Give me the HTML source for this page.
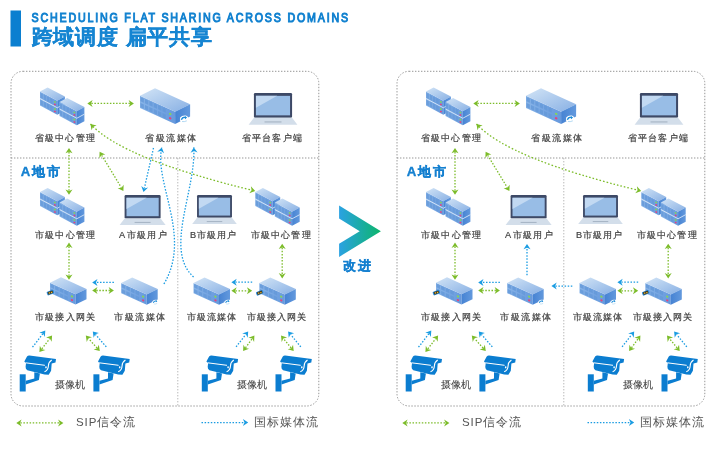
<!DOCTYPE html>
<html><head><meta charset="utf-8"><style>
html,body{margin:0;padding:0;background:#fff;width:726px;height:459px;overflow:hidden}
svg{display:block;will-change:transform;font-family:"Liberation Sans",sans-serif}
</style></head><body>
<svg width="726" height="459" viewBox="0 0 726 459">
<defs>
<linearGradient id="gTop" x1="0" y1="0" x2="1" y2="1"><stop offset="0" stop-color="#d2e4f6"/><stop offset="1" stop-color="#88b0e4"/></linearGradient>
<linearGradient id="gFront" x1="0" y1="0" x2="1" y2="0"><stop offset="0" stop-color="#88b4e8"/><stop offset="1" stop-color="#6699dd"/></linearGradient>
<linearGradient id="gEnd" x1="0" y1="0" x2="1" y2="0"><stop offset="0" stop-color="#4683d3"/><stop offset="1" stop-color="#6399dd"/></linearGradient>
<linearGradient id="gChev" x1="0" y1="0" x2="1" y2="0"><stop offset="0" stop-color="#2aa2e2"/><stop offset="1" stop-color="#0db56c"/></linearGradient>
</defs>
<rect x="10.5" y="10.5" width="10.5" height="36" fill="#0b7fd0"/>
<text transform="scale(0.85,1)" x="37.18" y="21.6" font-size="12.6" font-weight="normal" fill="#1282d0" stroke="#1282d0" stroke-width="1.0" textLength="372.35" lengthAdjust="spacing">SCHEDULING FLAT SHARING ACROSS DOMAINS</text>
<text x="31.6" y="44.0" font-size="20.6" font-weight="bold" fill="#1685d2" stroke="#1685d2" stroke-width="0.3" textLength="180.5" lengthAdjust="spacing">跨域调度 扁平共享</text>
<g transform="translate(0,0)"><rect x="11" y="71.3" width="307.8" height="334.7" rx="12" fill="none" stroke="#909090" stroke-width="0.95" stroke-dasharray="1.4 1.6"/><line x1="11" y1="158" x2="319" y2="158" stroke="#909090" stroke-width="0.95" stroke-dasharray="1.4 1.6"/><line x1="177.8" y1="158" x2="177.8" y2="406" stroke="#b4b4b4" stroke-width="0.95" stroke-dasharray="1.4 1.6"/><polygon points="40.00,91.50 57.30,100.70 57.30,114.80 40.00,105.60" fill="url(#gFront)"/><polygon points="40.00,91.50 57.30,100.70 64.90,96.60 47.60,87.40" fill="url(#gTop)"/><polygon points="57.30,100.70 64.90,96.60 64.90,110.70 57.30,114.80" fill="url(#gEnd)"/><polygon points="40.39,92.76 42.85,94.08 42.85,99.01 40.39,97.70" fill="#6498d8" opacity="0.8"/><polygon points="43.63,94.49 46.10,95.80 46.10,100.74 43.63,99.42" fill="#6498d8" opacity="0.8"/><polygon points="46.88,96.21 49.34,97.53 49.34,102.46 46.88,101.15" fill="#6498d8" opacity="0.8"/><polygon points="50.12,97.94 52.59,99.25 52.59,104.19 50.12,102.87" fill="#6498d8" opacity="0.8"/><ellipse cx="54.88" cy="101.95" rx="1.06" ry="0.82" fill="#86d45a" transform="rotate(25 54.88 101.95)"/><ellipse cx="54.88" cy="104.49" rx="1.06" ry="0.82" fill="#e2457f" transform="rotate(25 54.88 104.49)"/><polygon points="40.39,99.81 42.85,101.13 42.85,106.06 40.39,104.75" fill="#6498d8" opacity="0.8"/><polygon points="43.63,101.54 46.10,102.85 46.10,107.79 43.63,106.47" fill="#6498d8" opacity="0.8"/><polygon points="46.88,103.26 49.34,104.58 49.34,109.51 46.88,108.20" fill="#6498d8" opacity="0.8"/><polygon points="50.12,104.99 52.59,106.30 52.59,111.24 50.12,109.92" fill="#6498d8" opacity="0.8"/><ellipse cx="54.88" cy="109.00" rx="1.06" ry="0.82" fill="#86d45a" transform="rotate(25 54.88 109.00)"/><ellipse cx="54.88" cy="111.54" rx="1.06" ry="0.82" fill="#e2457f" transform="rotate(25 54.88 111.54)"/><polyline points="40.00,98.55 57.30,107.75 64.90,103.65" fill="none" stroke="#e6f0fb" stroke-width="0.8"/><polygon points="59.50,102.00 76.80,111.20 76.80,125.30 59.50,116.10" fill="url(#gFront)"/><polygon points="59.50,102.00 76.80,111.20 84.40,107.10 67.10,97.90" fill="url(#gTop)"/><polygon points="76.80,111.20 84.40,107.10 84.40,121.20 76.80,125.30" fill="url(#gEnd)"/><polygon points="59.89,103.26 62.35,104.58 62.35,109.51 59.89,108.20" fill="#6498d8" opacity="0.8"/><polygon points="63.13,104.99 65.60,106.30 65.60,111.24 63.13,109.92" fill="#6498d8" opacity="0.8"/><polygon points="66.38,106.71 68.84,108.03 68.84,112.96 66.38,111.65" fill="#6498d8" opacity="0.8"/><polygon points="69.62,108.44 72.09,109.75 72.09,114.69 69.62,113.37" fill="#6498d8" opacity="0.8"/><ellipse cx="74.38" cy="112.45" rx="1.06" ry="0.82" fill="#86d45a" transform="rotate(25 74.38 112.45)"/><ellipse cx="74.38" cy="114.99" rx="1.06" ry="0.82" fill="#e2457f" transform="rotate(25 74.38 114.99)"/><polygon points="59.89,110.31 62.35,111.63 62.35,116.56 59.89,115.25" fill="#6498d8" opacity="0.8"/><polygon points="63.13,112.04 65.60,113.35 65.60,118.29 63.13,116.97" fill="#6498d8" opacity="0.8"/><polygon points="66.38,113.76 68.84,115.08 68.84,120.01 66.38,118.70" fill="#6498d8" opacity="0.8"/><polygon points="69.62,115.49 72.09,116.80 72.09,121.74 69.62,120.42" fill="#6498d8" opacity="0.8"/><ellipse cx="74.38" cy="119.50" rx="1.06" ry="0.82" fill="#86d45a" transform="rotate(25 74.38 119.50)"/><ellipse cx="74.38" cy="122.04" rx="1.06" ry="0.82" fill="#e2457f" transform="rotate(25 74.38 122.04)"/><polyline points="59.50,109.05 76.80,118.25 84.40,114.15" fill="none" stroke="#e6f0fb" stroke-width="0.8"/><polygon points="140.00,95.80 175.10,111.70 175.10,123.90 140.00,108.00" fill="url(#gFront)"/><polygon points="140.00,95.80 175.10,111.70 190.10,104.20 155.00,88.30" fill="url(#gTop)"/><polygon points="175.10,111.70 190.10,104.20 190.10,116.40 175.10,123.90" fill="url(#gEnd)"/><polygon points="140.53,96.95 143.86,98.46 143.86,102.73 140.53,101.22" fill="#6498d8" opacity="0.8"/><polygon points="140.53,103.05 143.86,104.56 143.86,108.83 140.53,107.32" fill="#6498d8" opacity="0.8"/><polygon points="144.91,98.94 148.25,100.45 148.25,104.72 144.91,103.21" fill="#6498d8" opacity="0.8"/><polygon points="144.91,105.04 148.25,106.55 148.25,110.82 144.91,109.31" fill="#6498d8" opacity="0.8"/><polygon points="149.30,100.93 152.64,102.44 152.64,106.71 149.30,105.20" fill="#6498d8" opacity="0.8"/><polygon points="149.30,107.03 152.64,108.54 152.64,112.81 149.30,111.30" fill="#6498d8" opacity="0.8"/><polygon points="153.69,102.92 157.02,104.43 157.02,108.70 153.69,107.19" fill="#6498d8" opacity="0.8"/><polygon points="153.69,109.02 157.02,110.53 157.02,114.80 153.69,113.29" fill="#6498d8" opacity="0.8"/><polygon points="158.08,104.90 161.41,106.41 161.41,110.68 158.08,109.17" fill="#6498d8" opacity="0.8"/><polygon points="158.08,111.00 161.41,112.51 161.41,116.78 158.08,115.27" fill="#6498d8" opacity="0.8"/><polygon points="162.46,106.89 165.80,108.40 165.80,112.67 162.46,111.16" fill="#6498d8" opacity="0.8"/><polygon points="162.46,112.99 165.80,114.50 165.80,118.77 162.46,117.26" fill="#6498d8" opacity="0.8"/><ellipse cx="170.19" cy="113.87" rx="1.36" ry="1.08" fill="#86d45a" transform="rotate(25 170.19 113.87)"/><ellipse cx="170.19" cy="118.26" rx="1.36" ry="1.08" fill="#e2457f" transform="rotate(25 170.19 118.26)"/><g transform="translate(184.30,119.00) scale(1.15)"><path d="M-3.6,-1.2 Q-2,-3.4 1.2,-3 Q3.8,-2.2 3.6,0.6 Q3,3.2 -0.2,3.2 Q-3.4,2.8 -3.8,1 Z" fill="#ffffff"/><path d="M-2.6,0.6 Q-1.6,-1.6 0.4,-1.4 L1.6,-1.2" fill="none" stroke="#1a8ad8" stroke-width="1.3"/><path d="M0.6,-2.6 L2.4,-1.2 L0.6,0.2 Z" fill="#1a8ad8"/><path d="M-2,2.2 Q0,2.6 2.2,1.6" fill="none" stroke="#9fd0f0" stroke-width="0.7"/></g><rect x="253.92" y="93.00" width="38.16" height="24.80" rx="1.2" fill="#3d4966"/><rect x="255.93" y="95.86" width="34.13" height="19.50" fill="#98bde6"/><polygon points="255.93,95.86 277.24,95.86 255.93,107.84" fill="#c2d9f2"/><polygon points="253.92,117.80 292.08,117.80 297.38,124.69 248.62,124.69" fill="#d3deea"/><rect x="264.52" y="121.41" width="16.96" height="1.06" fill="#a4b2c2"/><polygon points="40.00,192.00 57.30,201.20 57.30,215.30 40.00,206.10" fill="url(#gFront)"/><polygon points="40.00,192.00 57.30,201.20 64.90,197.10 47.60,187.90" fill="url(#gTop)"/><polygon points="57.30,201.20 64.90,197.10 64.90,211.20 57.30,215.30" fill="url(#gEnd)"/><polygon points="40.39,193.26 42.85,194.58 42.85,199.51 40.39,198.20" fill="#6498d8" opacity="0.8"/><polygon points="43.63,194.99 46.10,196.30 46.10,201.24 43.63,199.92" fill="#6498d8" opacity="0.8"/><polygon points="46.88,196.71 49.34,198.03 49.34,202.96 46.88,201.65" fill="#6498d8" opacity="0.8"/><polygon points="50.12,198.44 52.59,199.75 52.59,204.69 50.12,203.37" fill="#6498d8" opacity="0.8"/><ellipse cx="54.88" cy="202.45" rx="1.06" ry="0.82" fill="#86d45a" transform="rotate(25 54.88 202.45)"/><ellipse cx="54.88" cy="204.99" rx="1.06" ry="0.82" fill="#e2457f" transform="rotate(25 54.88 204.99)"/><polygon points="40.39,200.31 42.85,201.63 42.85,206.56 40.39,205.25" fill="#6498d8" opacity="0.8"/><polygon points="43.63,202.04 46.10,203.35 46.10,208.29 43.63,206.97" fill="#6498d8" opacity="0.8"/><polygon points="46.88,203.76 49.34,205.08 49.34,210.01 46.88,208.70" fill="#6498d8" opacity="0.8"/><polygon points="50.12,205.49 52.59,206.80 52.59,211.74 50.12,210.42" fill="#6498d8" opacity="0.8"/><ellipse cx="54.88" cy="209.50" rx="1.06" ry="0.82" fill="#86d45a" transform="rotate(25 54.88 209.50)"/><ellipse cx="54.88" cy="212.04" rx="1.06" ry="0.82" fill="#e2457f" transform="rotate(25 54.88 212.04)"/><polyline points="40.00,199.05 57.30,208.25 64.90,204.15" fill="none" stroke="#e6f0fb" stroke-width="0.8"/><polygon points="59.50,202.50 76.80,211.70 76.80,225.80 59.50,216.60" fill="url(#gFront)"/><polygon points="59.50,202.50 76.80,211.70 84.40,207.60 67.10,198.40" fill="url(#gTop)"/><polygon points="76.80,211.70 84.40,207.60 84.40,221.70 76.80,225.80" fill="url(#gEnd)"/><polygon points="59.89,203.76 62.35,205.08 62.35,210.01 59.89,208.70" fill="#6498d8" opacity="0.8"/><polygon points="63.13,205.49 65.60,206.80 65.60,211.74 63.13,210.42" fill="#6498d8" opacity="0.8"/><polygon points="66.38,207.21 68.84,208.53 68.84,213.46 66.38,212.15" fill="#6498d8" opacity="0.8"/><polygon points="69.62,208.94 72.09,210.25 72.09,215.19 69.62,213.87" fill="#6498d8" opacity="0.8"/><ellipse cx="74.38" cy="212.95" rx="1.06" ry="0.82" fill="#86d45a" transform="rotate(25 74.38 212.95)"/><ellipse cx="74.38" cy="215.49" rx="1.06" ry="0.82" fill="#e2457f" transform="rotate(25 74.38 215.49)"/><polygon points="59.89,210.81 62.35,212.13 62.35,217.06 59.89,215.75" fill="#6498d8" opacity="0.8"/><polygon points="63.13,212.54 65.60,213.85 65.60,218.79 63.13,217.47" fill="#6498d8" opacity="0.8"/><polygon points="66.38,214.26 68.84,215.58 68.84,220.51 66.38,219.20" fill="#6498d8" opacity="0.8"/><polygon points="69.62,215.99 72.09,217.30 72.09,222.24 69.62,220.92" fill="#6498d8" opacity="0.8"/><ellipse cx="74.38" cy="220.00" rx="1.06" ry="0.82" fill="#86d45a" transform="rotate(25 74.38 220.00)"/><ellipse cx="74.38" cy="222.54" rx="1.06" ry="0.82" fill="#e2457f" transform="rotate(25 74.38 222.54)"/><polyline points="59.50,209.55 76.80,218.75 84.40,214.65" fill="none" stroke="#e6f0fb" stroke-width="0.8"/><rect x="124.60" y="195.10" width="36.00" height="23.40" rx="1.2" fill="#3d4966"/><rect x="126.50" y="197.80" width="32.20" height="18.40" fill="#98bde6"/><polygon points="126.50,197.80 146.60,197.80 126.50,209.10" fill="#c2d9f2"/><polygon points="124.60,218.50 160.60,218.50 165.60,225.00 119.60,225.00" fill="#d3deea"/><rect x="134.60" y="221.90" width="16.00" height="1.00" fill="#a4b2c2"/><rect x="197.04" y="195.10" width="34.92" height="22.70" rx="1.2" fill="#3d4966"/><rect x="198.88" y="197.72" width="31.23" height="17.85" fill="#98bde6"/><polygon points="198.88,197.72 218.38,197.72 198.88,208.68" fill="#c2d9f2"/><polygon points="197.04,217.80 231.96,217.80 236.81,224.10 192.19,224.10" fill="#d3deea"/><rect x="206.74" y="221.10" width="15.52" height="0.97" fill="#a4b2c2"/><polygon points="255.30,192.00 272.60,201.20 272.60,215.30 255.30,206.10" fill="url(#gFront)"/><polygon points="255.30,192.00 272.60,201.20 280.20,197.10 262.90,187.90" fill="url(#gTop)"/><polygon points="272.60,201.20 280.20,197.10 280.20,211.20 272.60,215.30" fill="url(#gEnd)"/><polygon points="255.69,193.26 258.15,194.58 258.15,199.51 255.69,198.20" fill="#6498d8" opacity="0.8"/><polygon points="258.93,194.99 261.40,196.30 261.40,201.24 258.93,199.92" fill="#6498d8" opacity="0.8"/><polygon points="262.18,196.71 264.64,198.03 264.64,202.96 262.18,201.65" fill="#6498d8" opacity="0.8"/><polygon points="265.42,198.44 267.89,199.75 267.89,204.69 265.42,203.37" fill="#6498d8" opacity="0.8"/><ellipse cx="270.18" cy="202.45" rx="1.06" ry="0.82" fill="#86d45a" transform="rotate(25 270.18 202.45)"/><ellipse cx="270.18" cy="204.99" rx="1.06" ry="0.82" fill="#e2457f" transform="rotate(25 270.18 204.99)"/><polygon points="255.69,200.31 258.15,201.63 258.15,206.56 255.69,205.25" fill="#6498d8" opacity="0.8"/><polygon points="258.93,202.04 261.40,203.35 261.40,208.29 258.93,206.97" fill="#6498d8" opacity="0.8"/><polygon points="262.18,203.76 264.64,205.08 264.64,210.01 262.18,208.70" fill="#6498d8" opacity="0.8"/><polygon points="265.42,205.49 267.89,206.80 267.89,211.74 265.42,210.42" fill="#6498d8" opacity="0.8"/><ellipse cx="270.18" cy="209.50" rx="1.06" ry="0.82" fill="#86d45a" transform="rotate(25 270.18 209.50)"/><ellipse cx="270.18" cy="212.04" rx="1.06" ry="0.82" fill="#e2457f" transform="rotate(25 270.18 212.04)"/><polyline points="255.30,199.05 272.60,208.25 280.20,204.15" fill="none" stroke="#e6f0fb" stroke-width="0.8"/><polygon points="274.80,202.50 292.10,211.70 292.10,225.80 274.80,216.60" fill="url(#gFront)"/><polygon points="274.80,202.50 292.10,211.70 299.70,207.60 282.40,198.40" fill="url(#gTop)"/><polygon points="292.10,211.70 299.70,207.60 299.70,221.70 292.10,225.80" fill="url(#gEnd)"/><polygon points="275.19,203.76 277.65,205.08 277.65,210.01 275.19,208.70" fill="#6498d8" opacity="0.8"/><polygon points="278.43,205.49 280.90,206.80 280.90,211.74 278.43,210.42" fill="#6498d8" opacity="0.8"/><polygon points="281.68,207.21 284.14,208.53 284.14,213.46 281.68,212.15" fill="#6498d8" opacity="0.8"/><polygon points="284.92,208.94 287.39,210.25 287.39,215.19 284.92,213.87" fill="#6498d8" opacity="0.8"/><ellipse cx="289.68" cy="212.95" rx="1.06" ry="0.82" fill="#86d45a" transform="rotate(25 289.68 212.95)"/><ellipse cx="289.68" cy="215.49" rx="1.06" ry="0.82" fill="#e2457f" transform="rotate(25 289.68 215.49)"/><polygon points="275.19,210.81 277.65,212.13 277.65,217.06 275.19,215.75" fill="#6498d8" opacity="0.8"/><polygon points="278.43,212.54 280.90,213.85 280.90,218.79 278.43,217.47" fill="#6498d8" opacity="0.8"/><polygon points="281.68,214.26 284.14,215.58 284.14,220.51 281.68,219.20" fill="#6498d8" opacity="0.8"/><polygon points="284.92,215.99 287.39,217.30 287.39,222.24 284.92,220.92" fill="#6498d8" opacity="0.8"/><ellipse cx="289.68" cy="220.00" rx="1.06" ry="0.82" fill="#86d45a" transform="rotate(25 289.68 220.00)"/><ellipse cx="289.68" cy="222.54" rx="1.06" ry="0.82" fill="#e2457f" transform="rotate(25 289.68 222.54)"/><polyline points="274.80,209.55 292.10,218.75 299.70,214.65" fill="none" stroke="#e6f0fb" stroke-width="0.8"/><polygon points="50.00,282.70 75.50,294.30 75.50,304.60 50.00,293.00" fill="url(#gFront)"/><polygon points="50.00,282.70 75.50,294.30 86.50,288.90 61.00,277.30" fill="url(#gTop)"/><polygon points="75.50,294.30 86.50,288.90 86.50,299.20 75.50,304.60" fill="url(#gEnd)"/><polygon points="50.55,283.72 54.04,285.31 54.04,288.91 50.55,287.33" fill="#6498d8" opacity="0.8"/><polygon points="50.55,288.87 54.04,290.46 54.04,294.06 50.55,292.48" fill="#6498d8" opacity="0.8"/><polygon points="55.14,285.81 58.63,287.40 58.63,291.00 55.14,289.42" fill="#6498d8" opacity="0.8"/><polygon points="55.14,290.96 58.63,292.55 58.63,296.15 55.14,294.57" fill="#6498d8" opacity="0.8"/><polygon points="59.73,287.90 63.22,289.49 63.22,293.09 59.73,291.50" fill="#6498d8" opacity="0.8"/><polygon points="59.73,293.05 63.22,294.64 63.22,298.24 59.73,296.65" fill="#6498d8" opacity="0.8"/><polygon points="64.32,289.99 67.81,291.57 67.81,295.18 64.32,293.59" fill="#6498d8" opacity="0.8"/><polygon points="64.32,295.14 67.81,296.72 67.81,300.33 64.32,298.74" fill="#6498d8" opacity="0.8"/><ellipse cx="71.93" cy="296.38" rx="1.26" ry="0.99" fill="#86d45a" transform="rotate(25 71.93 296.38)"/><ellipse cx="71.93" cy="300.09" rx="1.26" ry="0.99" fill="#e2457f" transform="rotate(25 71.93 300.09)"/><g transform="translate(50.40,292.60) rotate(-22)"><rect x="-3.6" y="-1.9" width="7.2" height="3.8" rx="1" fill="#2a8ee0"/><rect x="-2.6" y="-1.3" width="5.2" height="2.6" fill="#4a3c1a"/><circle cx="-1" cy="0" r="0.7" fill="#e8c040"/><circle cx="1.2" cy="0.3" r="0.7" fill="#e8c040"/></g><polygon points="121.20,282.90 146.70,294.50 146.70,304.80 121.20,293.20" fill="url(#gFront)"/><polygon points="121.20,282.90 146.70,294.50 157.70,289.10 132.20,277.50" fill="url(#gTop)"/><polygon points="146.70,294.50 157.70,289.10 157.70,299.40 146.70,304.80" fill="url(#gEnd)"/><polygon points="121.75,283.92 125.24,285.51 125.24,289.11 121.75,287.53" fill="#6498d8" opacity="0.8"/><polygon points="121.75,289.07 125.24,290.66 125.24,294.26 121.75,292.68" fill="#6498d8" opacity="0.8"/><polygon points="126.34,286.01 129.83,287.60 129.83,291.20 126.34,289.62" fill="#6498d8" opacity="0.8"/><polygon points="126.34,291.16 129.83,292.75 129.83,296.35 126.34,294.77" fill="#6498d8" opacity="0.8"/><polygon points="130.93,288.10 134.42,289.69 134.42,293.29 130.93,291.70" fill="#6498d8" opacity="0.8"/><polygon points="130.93,293.25 134.42,294.84 134.42,298.44 130.93,296.85" fill="#6498d8" opacity="0.8"/><polygon points="135.52,290.19 139.01,291.77 139.01,295.38 135.52,293.79" fill="#6498d8" opacity="0.8"/><polygon points="135.52,295.34 139.01,296.92 139.01,300.53 135.52,298.94" fill="#6498d8" opacity="0.8"/><ellipse cx="143.13" cy="296.58" rx="1.26" ry="0.99" fill="#86d45a" transform="rotate(25 143.13 296.58)"/><ellipse cx="143.13" cy="300.29" rx="1.26" ry="0.99" fill="#e2457f" transform="rotate(25 143.13 300.29)"/><g transform="translate(155.40,302.20) scale(0.8)"><path d="M-3.6,-1.2 Q-2,-3.4 1.2,-3 Q3.8,-2.2 3.6,0.6 Q3,3.2 -0.2,3.2 Q-3.4,2.8 -3.8,1 Z" fill="#ffffff"/><path d="M-2.6,0.6 Q-1.6,-1.6 0.4,-1.4 L1.6,-1.2" fill="none" stroke="#1a8ad8" stroke-width="1.3"/><path d="M0.6,-2.6 L2.4,-1.2 L0.6,0.2 Z" fill="#1a8ad8"/><path d="M-2,2.2 Q0,2.6 2.2,1.6" fill="none" stroke="#9fd0f0" stroke-width="0.7"/></g><polygon points="193.50,282.90 219.00,294.50 219.00,304.80 193.50,293.20" fill="url(#gFront)"/><polygon points="193.50,282.90 219.00,294.50 230.00,289.10 204.50,277.50" fill="url(#gTop)"/><polygon points="219.00,294.50 230.00,289.10 230.00,299.40 219.00,304.80" fill="url(#gEnd)"/><polygon points="194.05,283.92 197.54,285.51 197.54,289.11 194.05,287.53" fill="#6498d8" opacity="0.8"/><polygon points="194.05,289.07 197.54,290.66 197.54,294.26 194.05,292.68" fill="#6498d8" opacity="0.8"/><polygon points="198.64,286.01 202.13,287.60 202.13,291.20 198.64,289.62" fill="#6498d8" opacity="0.8"/><polygon points="198.64,291.16 202.13,292.75 202.13,296.35 198.64,294.77" fill="#6498d8" opacity="0.8"/><polygon points="203.23,288.10 206.72,289.69 206.72,293.29 203.23,291.70" fill="#6498d8" opacity="0.8"/><polygon points="203.23,293.25 206.72,294.84 206.72,298.44 203.23,296.85" fill="#6498d8" opacity="0.8"/><polygon points="207.82,290.19 211.31,291.77 211.31,295.38 207.82,293.79" fill="#6498d8" opacity="0.8"/><polygon points="207.82,295.34 211.31,296.92 211.31,300.53 207.82,298.94" fill="#6498d8" opacity="0.8"/><ellipse cx="215.43" cy="296.58" rx="1.26" ry="0.99" fill="#86d45a" transform="rotate(25 215.43 296.58)"/><ellipse cx="215.43" cy="300.29" rx="1.26" ry="0.99" fill="#e2457f" transform="rotate(25 215.43 300.29)"/><g transform="translate(227.70,302.20) scale(0.8)"><path d="M-3.6,-1.2 Q-2,-3.4 1.2,-3 Q3.8,-2.2 3.6,0.6 Q3,3.2 -0.2,3.2 Q-3.4,2.8 -3.8,1 Z" fill="#ffffff"/><path d="M-2.6,0.6 Q-1.6,-1.6 0.4,-1.4 L1.6,-1.2" fill="none" stroke="#1a8ad8" stroke-width="1.3"/><path d="M0.6,-2.6 L2.4,-1.2 L0.6,0.2 Z" fill="#1a8ad8"/><path d="M-2,2.2 Q0,2.6 2.2,1.6" fill="none" stroke="#9fd0f0" stroke-width="0.7"/></g><polygon points="259.30,282.90 284.80,294.50 284.80,304.80 259.30,293.20" fill="url(#gFront)"/><polygon points="259.30,282.90 284.80,294.50 295.80,289.10 270.30,277.50" fill="url(#gTop)"/><polygon points="284.80,294.50 295.80,289.10 295.80,299.40 284.80,304.80" fill="url(#gEnd)"/><polygon points="259.85,283.92 263.34,285.51 263.34,289.11 259.85,287.53" fill="#6498d8" opacity="0.8"/><polygon points="259.85,289.07 263.34,290.66 263.34,294.26 259.85,292.68" fill="#6498d8" opacity="0.8"/><polygon points="264.44,286.01 267.93,287.60 267.93,291.20 264.44,289.62" fill="#6498d8" opacity="0.8"/><polygon points="264.44,291.16 267.93,292.75 267.93,296.35 264.44,294.77" fill="#6498d8" opacity="0.8"/><polygon points="269.03,288.10 272.52,289.69 272.52,293.29 269.03,291.70" fill="#6498d8" opacity="0.8"/><polygon points="269.03,293.25 272.52,294.84 272.52,298.44 269.03,296.85" fill="#6498d8" opacity="0.8"/><polygon points="273.62,290.19 277.11,291.77 277.11,295.38 273.62,293.79" fill="#6498d8" opacity="0.8"/><polygon points="273.62,295.34 277.11,296.92 277.11,300.53 273.62,298.94" fill="#6498d8" opacity="0.8"/><ellipse cx="281.23" cy="296.58" rx="1.26" ry="0.99" fill="#86d45a" transform="rotate(25 281.23 296.58)"/><ellipse cx="281.23" cy="300.29" rx="1.26" ry="0.99" fill="#e2457f" transform="rotate(25 281.23 300.29)"/><g transform="translate(259.70,292.80) rotate(-22)"><rect x="-3.6" y="-1.9" width="7.2" height="3.8" rx="1" fill="#2a8ee0"/><rect x="-2.6" y="-1.3" width="5.2" height="2.6" fill="#4a3c1a"/><circle cx="-1" cy="0" r="0.7" fill="#e8c040"/><circle cx="1.2" cy="0.3" r="0.7" fill="#e8c040"/></g><g transform="translate(16.10,350.30)" fill="#0b7dd0"><path d="M3.6,24 L9.6,24 L9.6,41.2 L3.6,41.2 Z"/><path d="M9.6,30.5 L18.2,28.2 L18.2,22 L23.8,23.2 L22.8,29.6 L9.6,34.2 Z"/><path d="M8.2,11.2 L10.9,6.1 Q11.8,5.0 13.3,5.1 L39.9,8.8 L39.4,12.3 L35.6,13.2 L35.0,20.4 L32.6,24.4 L28.4,24.3 L22.4,22.8 L11.2,20.0 Q9.3,18.6 9.5,16.4 L9.9,13.0 Z"/><path d="M9.4,12.5 L28.8,15.0" fill="none" stroke="#fff" stroke-width="1.0"/><path d="M35.6,9.6 Q32.4,11.6 32.3,15.4 Q32.1,19.9 28.4,21.4" fill="none" stroke="#fff" stroke-width="1.15"/><ellipse cx="29.9" cy="17.0" rx="0.8" ry="1.1" fill="#fff"/></g><g transform="translate(89.80,350.30)" fill="#0b7dd0"><path d="M3.6,24 L9.6,24 L9.6,41.2 L3.6,41.2 Z"/><path d="M9.6,30.5 L18.2,28.2 L18.2,22 L23.8,23.2 L22.8,29.6 L9.6,34.2 Z"/><path d="M8.2,11.2 L10.9,6.1 Q11.8,5.0 13.3,5.1 L39.9,8.8 L39.4,12.3 L35.6,13.2 L35.0,20.4 L32.6,24.4 L28.4,24.3 L22.4,22.8 L11.2,20.0 Q9.3,18.6 9.5,16.4 L9.9,13.0 Z"/><path d="M9.4,12.5 L28.8,15.0" fill="none" stroke="#fff" stroke-width="1.0"/><path d="M35.6,9.6 Q32.4,11.6 32.3,15.4 Q32.1,19.9 28.4,21.4" fill="none" stroke="#fff" stroke-width="1.15"/><ellipse cx="29.9" cy="17.0" rx="0.8" ry="1.1" fill="#fff"/></g><g transform="translate(198.20,350.30)" fill="#0b7dd0"><path d="M3.6,24 L9.6,24 L9.6,41.2 L3.6,41.2 Z"/><path d="M9.6,30.5 L18.2,28.2 L18.2,22 L23.8,23.2 L22.8,29.6 L9.6,34.2 Z"/><path d="M8.2,11.2 L10.9,6.1 Q11.8,5.0 13.3,5.1 L39.9,8.8 L39.4,12.3 L35.6,13.2 L35.0,20.4 L32.6,24.4 L28.4,24.3 L22.4,22.8 L11.2,20.0 Q9.3,18.6 9.5,16.4 L9.9,13.0 Z"/><path d="M9.4,12.5 L28.8,15.0" fill="none" stroke="#fff" stroke-width="1.0"/><path d="M35.6,9.6 Q32.4,11.6 32.3,15.4 Q32.1,19.9 28.4,21.4" fill="none" stroke="#fff" stroke-width="1.15"/><ellipse cx="29.9" cy="17.0" rx="0.8" ry="1.1" fill="#fff"/></g><g transform="translate(271.90,350.30)" fill="#0b7dd0"><path d="M3.6,24 L9.6,24 L9.6,41.2 L3.6,41.2 Z"/><path d="M9.6,30.5 L18.2,28.2 L18.2,22 L23.8,23.2 L22.8,29.6 L9.6,34.2 Z"/><path d="M8.2,11.2 L10.9,6.1 Q11.8,5.0 13.3,5.1 L39.9,8.8 L39.4,12.3 L35.6,13.2 L35.0,20.4 L32.6,24.4 L28.4,24.3 L22.4,22.8 L11.2,20.0 Q9.3,18.6 9.5,16.4 L9.9,13.0 Z"/><path d="M9.4,12.5 L28.8,15.0" fill="none" stroke="#fff" stroke-width="1.0"/><path d="M35.6,9.6 Q32.4,11.6 32.3,15.4 Q32.1,19.9 28.4,21.4" fill="none" stroke="#fff" stroke-width="1.15"/><ellipse cx="29.9" cy="17.0" rx="0.8" ry="1.1" fill="#fff"/></g><text x="34.84" y="138" font-size="9.2" fill="#404040" stroke="#404040" stroke-width="0.2" dominant-baseline="central" textLength="59.96" lengthAdjust="spacing">省級中心管理</text><text x="145.34" y="138" font-size="9.2" fill="#404040" stroke="#404040" stroke-width="0.2" dominant-baseline="central" textLength="50.86" lengthAdjust="spacing">省級流媒体</text><text x="241.84" y="138" font-size="9.2" fill="#404040" stroke="#404040" stroke-width="0.2" dominant-baseline="central" textLength="60.06" lengthAdjust="spacing">省平台客户端</text><text x="35.04" y="235" font-size="9.2" fill="#404040" stroke="#404040" stroke-width="0.2" dominant-baseline="central" textLength="59.86" lengthAdjust="spacing">市級中心管理</text><text x="119.04" y="235" font-size="9.2" fill="#404040" stroke="#404040" stroke-width="0.2" dominant-baseline="central" textLength="47.56" lengthAdjust="spacing">A市級用户</text><text x="190.04" y="235" font-size="9.2" fill="#404040" stroke="#404040" stroke-width="0.2" dominant-baseline="central" textLength="45.56" lengthAdjust="spacing">B市級用户</text><text x="250.54" y="235" font-size="9.2" fill="#404040" stroke="#404040" stroke-width="0.2" dominant-baseline="central" textLength="59.96" lengthAdjust="spacing">市級中心管理</text><text x="35.04" y="317.4" font-size="9.2" fill="#404040" stroke="#404040" stroke-width="0.2" dominant-baseline="central" textLength="59.86" lengthAdjust="spacing">市級接入网关</text><text x="114.34" y="317.4" font-size="9.2" fill="#404040" stroke="#404040" stroke-width="0.2" dominant-baseline="central" textLength="50.96" lengthAdjust="spacing">市級流媒体</text><text x="186.84" y="317.4" font-size="9.2" fill="#404040" stroke="#404040" stroke-width="0.2" dominant-baseline="central" textLength="49.46" lengthAdjust="spacing">市級流媒体</text><text x="246.84" y="317.4" font-size="9.2" fill="#404040" stroke="#404040" stroke-width="0.2" dominant-baseline="central" textLength="59.36" lengthAdjust="spacing">市級接入网关</text><text x="54.70" y="384.6" font-size="10" fill="#404040" stroke="#555" stroke-width="0.08" dominant-baseline="central" textLength="30.00" lengthAdjust="spacing">摄像机</text><text x="236.70" y="384.6" font-size="10" fill="#404040" stroke="#555" stroke-width="0.08" dominant-baseline="central" textLength="30.20" lengthAdjust="spacing">摄像机</text><text x="20.8" y="171.8" font-size="13.2" font-weight="bold" fill="#1580d0" stroke="#1580d0" stroke-width="0.35" dominant-baseline="central" textLength="39.2" lengthAdjust="spacing">A地市</text><line x1="91.30" y1="103.40" x2="129.90" y2="103.40" stroke="#7cbc2a" stroke-width="1.3" stroke-dasharray="1.5 1.6"/><path d="M133.90,103.40L128.60,106.90L130.20,103.40L128.60,99.90Z" fill="#7cbc2a"/><path d="M87.30,103.40L92.60,99.90L91.00,103.40L92.60,106.90Z" fill="#7cbc2a"/><path d="M90.5,124Q123.1,159.2 255.2,191" fill="none" stroke="#7cbc2a" stroke-width="1.3" stroke-dasharray="1.6 2.0"/><path d="M255.20,191.00L249.23,193.16L251.60,190.13L250.87,186.36Z" fill="#7cbc2a"/><path d="M90.50,124.00L96.67,125.51L93.01,126.71L91.53,130.27Z" fill="#7cbc2a"/><line x1="69.00" y1="152.00" x2="69.00" y2="190.80" stroke="#7cbc2a" stroke-width="1.3" stroke-dasharray="1.5 1.6"/><path d="M69.00,194.80L65.50,189.50L69.00,191.10L72.50,189.50Z" fill="#7cbc2a"/><path d="M69.00,148.00L72.50,153.30L69.00,151.70L65.50,153.30Z" fill="#7cbc2a"/><line x1="101.68" y1="155.22" x2="121.32" y2="187.58" stroke="#7cbc2a" stroke-width="1.3" stroke-dasharray="1.5 1.6"/><path d="M123.40,191.00L117.66,188.29L121.48,187.84L123.64,184.65Z" fill="#7cbc2a"/><path d="M99.60,151.80L105.34,154.51L101.52,154.96L99.36,158.15Z" fill="#7cbc2a"/><line x1="69.00" y1="246.60" x2="69.00" y2="275.70" stroke="#7cbc2a" stroke-width="1.3" stroke-dasharray="1.5 1.6"/><path d="M69.00,279.70L65.50,274.40L69.00,276.00L72.50,274.40Z" fill="#7cbc2a"/><path d="M69.00,242.60L72.50,247.90L69.00,246.30L65.50,247.90Z" fill="#7cbc2a"/><line x1="282.20" y1="247.70" x2="282.20" y2="274.40" stroke="#7cbc2a" stroke-width="1.3" stroke-dasharray="1.5 1.6"/><path d="M282.20,278.40L278.70,273.10L282.20,274.70L285.70,273.10Z" fill="#7cbc2a"/><path d="M282.20,243.70L285.70,249.00L282.20,247.40L278.70,249.00Z" fill="#7cbc2a"/><line x1="96.20" y1="290.50" x2="109.90" y2="290.50" stroke="#7cbc2a" stroke-width="1.3" stroke-dasharray="1.5 1.6"/><path d="M113.90,290.50L108.60,294.00L110.20,290.50L108.60,287.00Z" fill="#7cbc2a"/><path d="M92.20,290.50L97.50,287.00L95.90,290.50L97.50,294.00Z" fill="#7cbc2a"/><line x1="235.40" y1="290.80" x2="248.20" y2="290.80" stroke="#7cbc2a" stroke-width="1.3" stroke-dasharray="1.5 1.6"/><path d="M252.20,290.80L246.90,294.30L248.50,290.80L246.90,287.30Z" fill="#7cbc2a"/><path d="M231.40,290.80L236.70,287.30L235.10,290.80L236.70,294.30Z" fill="#7cbc2a"/><line x1="113.90" y1="282.40" x2="96.20" y2="282.40" stroke="#1a9ce2" stroke-width="1.3" stroke-dasharray="1.5 1.6"/><path d="M92.20,282.40L97.50,278.90L95.90,282.40L97.50,285.90Z" fill="#1a9ce2"/><line x1="252.20" y1="282.20" x2="235.40" y2="282.20" stroke="#1a9ce2" stroke-width="1.3" stroke-dasharray="1.5 1.6"/><path d="M231.40,282.20L236.70,278.70L235.10,282.20L236.70,285.70Z" fill="#1a9ce2"/><line x1="32.50" y1="347.20" x2="42.86" y2="333.77" stroke="#1a9ce2" stroke-width="1.3" stroke-dasharray="1.5 1.6"/><path d="M45.30,330.60L44.84,336.93L43.04,333.53L39.29,332.66Z" fill="#1a9ce2"/><line x1="41.83" y1="348.92" x2="49.67" y2="338.68" stroke="#7cbc2a" stroke-width="1.3" stroke-dasharray="1.5 1.6"/><path d="M52.10,335.50L51.66,341.84L49.85,338.44L46.10,337.58Z" fill="#7cbc2a"/><path d="M39.40,352.10L39.84,345.76L41.65,349.16L45.40,350.02Z" fill="#7cbc2a"/><line x1="106.30" y1="346.90" x2="95.43" y2="334.42" stroke="#1a9ce2" stroke-width="1.3" stroke-dasharray="1.5 1.6"/><path d="M92.80,331.40L98.92,333.10L95.23,334.19L93.64,337.70Z" fill="#1a9ce2"/><line x1="97.11" y1="348.04" x2="88.49" y2="338.56" stroke="#7cbc2a" stroke-width="1.3" stroke-dasharray="1.5 1.6"/><path d="M85.80,335.60L91.95,337.17L88.29,338.34L86.78,341.88Z" fill="#7cbc2a"/><path d="M99.80,351.00L93.65,349.43L97.31,348.26L98.82,344.72Z" fill="#7cbc2a"/><line x1="236.10" y1="346.90" x2="245.74" y2="334.55" stroke="#1a9ce2" stroke-width="1.3" stroke-dasharray="1.5 1.6"/><path d="M248.20,331.40L247.70,337.73L245.92,334.32L242.18,333.42Z" fill="#1a9ce2"/><line x1="245.47" y1="347.78" x2="252.03" y2="338.82" stroke="#7cbc2a" stroke-width="1.3" stroke-dasharray="1.5 1.6"/><path d="M254.40,335.60L254.09,341.94L252.21,338.58L248.44,337.80Z" fill="#7cbc2a"/><path d="M243.10,351.00L243.41,344.66L245.29,348.02L249.06,348.80Z" fill="#7cbc2a"/><line x1="300.80" y1="346.90" x2="290.64" y2="334.49" stroke="#1a9ce2" stroke-width="1.3" stroke-dasharray="1.5 1.6"/><path d="M288.10,331.40L294.17,333.28L290.44,334.26L288.75,337.72Z" fill="#1a9ce2"/><line x1="291.16" y1="347.91" x2="283.54" y2="338.69" stroke="#7cbc2a" stroke-width="1.3" stroke-dasharray="1.5 1.6"/><path d="M281.00,335.60L287.07,337.46L283.35,338.45L281.67,341.92Z" fill="#7cbc2a"/><path d="M293.70,351.00L287.63,349.14L291.35,348.15L293.03,344.68Z" fill="#7cbc2a"/><line x1="153.50" y1="148.00" x2="144.39" y2="188.10" stroke="#1a9ce2" stroke-width="1.3" stroke-dasharray="1.5 1.6"/><path d="M143.50,192.00L141.26,186.06L144.32,188.39L148.09,187.61Z" fill="#1a9ce2"/><path d="M163.9,284C192.3,236.3 153.8,183.3 161.8,147.4" fill="none" stroke="#1a9ce2" stroke-width="1.3" stroke-dasharray="1.5 1.6"/><path d="M161.80,147.40L164.06,153.33L161.00,151.01L157.23,151.81Z" fill="#1a9ce2"/><path d="M193.6,277C163.7,250.3 196,191.2 193.8,147.4" fill="none" stroke="#1a9ce2" stroke-width="1.3" stroke-dasharray="1.5 1.6"/><path d="M193.80,147.40L197.56,152.52L193.99,151.10L190.57,152.87Z" fill="#1a9ce2"/></g>
<g transform="translate(386,0)"><rect x="11" y="71.3" width="307.8" height="334.7" rx="12" fill="none" stroke="#909090" stroke-width="0.95" stroke-dasharray="1.4 1.6"/><line x1="11" y1="158" x2="319" y2="158" stroke="#909090" stroke-width="0.95" stroke-dasharray="1.4 1.6"/><line x1="177.8" y1="158" x2="177.8" y2="406" stroke="#b4b4b4" stroke-width="0.95" stroke-dasharray="1.4 1.6"/><polygon points="40.00,91.50 57.30,100.70 57.30,114.80 40.00,105.60" fill="url(#gFront)"/><polygon points="40.00,91.50 57.30,100.70 64.90,96.60 47.60,87.40" fill="url(#gTop)"/><polygon points="57.30,100.70 64.90,96.60 64.90,110.70 57.30,114.80" fill="url(#gEnd)"/><polygon points="40.39,92.76 42.85,94.08 42.85,99.01 40.39,97.70" fill="#6498d8" opacity="0.8"/><polygon points="43.63,94.49 46.10,95.80 46.10,100.74 43.63,99.42" fill="#6498d8" opacity="0.8"/><polygon points="46.88,96.21 49.34,97.53 49.34,102.46 46.88,101.15" fill="#6498d8" opacity="0.8"/><polygon points="50.12,97.94 52.59,99.25 52.59,104.19 50.12,102.87" fill="#6498d8" opacity="0.8"/><ellipse cx="54.88" cy="101.95" rx="1.06" ry="0.82" fill="#86d45a" transform="rotate(25 54.88 101.95)"/><ellipse cx="54.88" cy="104.49" rx="1.06" ry="0.82" fill="#e2457f" transform="rotate(25 54.88 104.49)"/><polygon points="40.39,99.81 42.85,101.13 42.85,106.06 40.39,104.75" fill="#6498d8" opacity="0.8"/><polygon points="43.63,101.54 46.10,102.85 46.10,107.79 43.63,106.47" fill="#6498d8" opacity="0.8"/><polygon points="46.88,103.26 49.34,104.58 49.34,109.51 46.88,108.20" fill="#6498d8" opacity="0.8"/><polygon points="50.12,104.99 52.59,106.30 52.59,111.24 50.12,109.92" fill="#6498d8" opacity="0.8"/><ellipse cx="54.88" cy="109.00" rx="1.06" ry="0.82" fill="#86d45a" transform="rotate(25 54.88 109.00)"/><ellipse cx="54.88" cy="111.54" rx="1.06" ry="0.82" fill="#e2457f" transform="rotate(25 54.88 111.54)"/><polyline points="40.00,98.55 57.30,107.75 64.90,103.65" fill="none" stroke="#e6f0fb" stroke-width="0.8"/><polygon points="59.50,102.00 76.80,111.20 76.80,125.30 59.50,116.10" fill="url(#gFront)"/><polygon points="59.50,102.00 76.80,111.20 84.40,107.10 67.10,97.90" fill="url(#gTop)"/><polygon points="76.80,111.20 84.40,107.10 84.40,121.20 76.80,125.30" fill="url(#gEnd)"/><polygon points="59.89,103.26 62.35,104.58 62.35,109.51 59.89,108.20" fill="#6498d8" opacity="0.8"/><polygon points="63.13,104.99 65.60,106.30 65.60,111.24 63.13,109.92" fill="#6498d8" opacity="0.8"/><polygon points="66.38,106.71 68.84,108.03 68.84,112.96 66.38,111.65" fill="#6498d8" opacity="0.8"/><polygon points="69.62,108.44 72.09,109.75 72.09,114.69 69.62,113.37" fill="#6498d8" opacity="0.8"/><ellipse cx="74.38" cy="112.45" rx="1.06" ry="0.82" fill="#86d45a" transform="rotate(25 74.38 112.45)"/><ellipse cx="74.38" cy="114.99" rx="1.06" ry="0.82" fill="#e2457f" transform="rotate(25 74.38 114.99)"/><polygon points="59.89,110.31 62.35,111.63 62.35,116.56 59.89,115.25" fill="#6498d8" opacity="0.8"/><polygon points="63.13,112.04 65.60,113.35 65.60,118.29 63.13,116.97" fill="#6498d8" opacity="0.8"/><polygon points="66.38,113.76 68.84,115.08 68.84,120.01 66.38,118.70" fill="#6498d8" opacity="0.8"/><polygon points="69.62,115.49 72.09,116.80 72.09,121.74 69.62,120.42" fill="#6498d8" opacity="0.8"/><ellipse cx="74.38" cy="119.50" rx="1.06" ry="0.82" fill="#86d45a" transform="rotate(25 74.38 119.50)"/><ellipse cx="74.38" cy="122.04" rx="1.06" ry="0.82" fill="#e2457f" transform="rotate(25 74.38 122.04)"/><polyline points="59.50,109.05 76.80,118.25 84.40,114.15" fill="none" stroke="#e6f0fb" stroke-width="0.8"/><polygon points="140.00,95.80 175.10,111.70 175.10,123.90 140.00,108.00" fill="url(#gFront)"/><polygon points="140.00,95.80 175.10,111.70 190.10,104.20 155.00,88.30" fill="url(#gTop)"/><polygon points="175.10,111.70 190.10,104.20 190.10,116.40 175.10,123.90" fill="url(#gEnd)"/><polygon points="140.53,96.95 143.86,98.46 143.86,102.73 140.53,101.22" fill="#6498d8" opacity="0.8"/><polygon points="140.53,103.05 143.86,104.56 143.86,108.83 140.53,107.32" fill="#6498d8" opacity="0.8"/><polygon points="144.91,98.94 148.25,100.45 148.25,104.72 144.91,103.21" fill="#6498d8" opacity="0.8"/><polygon points="144.91,105.04 148.25,106.55 148.25,110.82 144.91,109.31" fill="#6498d8" opacity="0.8"/><polygon points="149.30,100.93 152.64,102.44 152.64,106.71 149.30,105.20" fill="#6498d8" opacity="0.8"/><polygon points="149.30,107.03 152.64,108.54 152.64,112.81 149.30,111.30" fill="#6498d8" opacity="0.8"/><polygon points="153.69,102.92 157.02,104.43 157.02,108.70 153.69,107.19" fill="#6498d8" opacity="0.8"/><polygon points="153.69,109.02 157.02,110.53 157.02,114.80 153.69,113.29" fill="#6498d8" opacity="0.8"/><polygon points="158.08,104.90 161.41,106.41 161.41,110.68 158.08,109.17" fill="#6498d8" opacity="0.8"/><polygon points="158.08,111.00 161.41,112.51 161.41,116.78 158.08,115.27" fill="#6498d8" opacity="0.8"/><polygon points="162.46,106.89 165.80,108.40 165.80,112.67 162.46,111.16" fill="#6498d8" opacity="0.8"/><polygon points="162.46,112.99 165.80,114.50 165.80,118.77 162.46,117.26" fill="#6498d8" opacity="0.8"/><ellipse cx="170.19" cy="113.87" rx="1.36" ry="1.08" fill="#86d45a" transform="rotate(25 170.19 113.87)"/><ellipse cx="170.19" cy="118.26" rx="1.36" ry="1.08" fill="#e2457f" transform="rotate(25 170.19 118.26)"/><g transform="translate(184.30,119.00) scale(1.15)"><path d="M-3.6,-1.2 Q-2,-3.4 1.2,-3 Q3.8,-2.2 3.6,0.6 Q3,3.2 -0.2,3.2 Q-3.4,2.8 -3.8,1 Z" fill="#ffffff"/><path d="M-2.6,0.6 Q-1.6,-1.6 0.4,-1.4 L1.6,-1.2" fill="none" stroke="#1a8ad8" stroke-width="1.3"/><path d="M0.6,-2.6 L2.4,-1.2 L0.6,0.2 Z" fill="#1a8ad8"/><path d="M-2,2.2 Q0,2.6 2.2,1.6" fill="none" stroke="#9fd0f0" stroke-width="0.7"/></g><rect x="253.92" y="93.00" width="38.16" height="24.80" rx="1.2" fill="#3d4966"/><rect x="255.93" y="95.86" width="34.13" height="19.50" fill="#98bde6"/><polygon points="255.93,95.86 277.24,95.86 255.93,107.84" fill="#c2d9f2"/><polygon points="253.92,117.80 292.08,117.80 297.38,124.69 248.62,124.69" fill="#d3deea"/><rect x="264.52" y="121.41" width="16.96" height="1.06" fill="#a4b2c2"/><polygon points="40.00,192.00 57.30,201.20 57.30,215.30 40.00,206.10" fill="url(#gFront)"/><polygon points="40.00,192.00 57.30,201.20 64.90,197.10 47.60,187.90" fill="url(#gTop)"/><polygon points="57.30,201.20 64.90,197.10 64.90,211.20 57.30,215.30" fill="url(#gEnd)"/><polygon points="40.39,193.26 42.85,194.58 42.85,199.51 40.39,198.20" fill="#6498d8" opacity="0.8"/><polygon points="43.63,194.99 46.10,196.30 46.10,201.24 43.63,199.92" fill="#6498d8" opacity="0.8"/><polygon points="46.88,196.71 49.34,198.03 49.34,202.96 46.88,201.65" fill="#6498d8" opacity="0.8"/><polygon points="50.12,198.44 52.59,199.75 52.59,204.69 50.12,203.37" fill="#6498d8" opacity="0.8"/><ellipse cx="54.88" cy="202.45" rx="1.06" ry="0.82" fill="#86d45a" transform="rotate(25 54.88 202.45)"/><ellipse cx="54.88" cy="204.99" rx="1.06" ry="0.82" fill="#e2457f" transform="rotate(25 54.88 204.99)"/><polygon points="40.39,200.31 42.85,201.63 42.85,206.56 40.39,205.25" fill="#6498d8" opacity="0.8"/><polygon points="43.63,202.04 46.10,203.35 46.10,208.29 43.63,206.97" fill="#6498d8" opacity="0.8"/><polygon points="46.88,203.76 49.34,205.08 49.34,210.01 46.88,208.70" fill="#6498d8" opacity="0.8"/><polygon points="50.12,205.49 52.59,206.80 52.59,211.74 50.12,210.42" fill="#6498d8" opacity="0.8"/><ellipse cx="54.88" cy="209.50" rx="1.06" ry="0.82" fill="#86d45a" transform="rotate(25 54.88 209.50)"/><ellipse cx="54.88" cy="212.04" rx="1.06" ry="0.82" fill="#e2457f" transform="rotate(25 54.88 212.04)"/><polyline points="40.00,199.05 57.30,208.25 64.90,204.15" fill="none" stroke="#e6f0fb" stroke-width="0.8"/><polygon points="59.50,202.50 76.80,211.70 76.80,225.80 59.50,216.60" fill="url(#gFront)"/><polygon points="59.50,202.50 76.80,211.70 84.40,207.60 67.10,198.40" fill="url(#gTop)"/><polygon points="76.80,211.70 84.40,207.60 84.40,221.70 76.80,225.80" fill="url(#gEnd)"/><polygon points="59.89,203.76 62.35,205.08 62.35,210.01 59.89,208.70" fill="#6498d8" opacity="0.8"/><polygon points="63.13,205.49 65.60,206.80 65.60,211.74 63.13,210.42" fill="#6498d8" opacity="0.8"/><polygon points="66.38,207.21 68.84,208.53 68.84,213.46 66.38,212.15" fill="#6498d8" opacity="0.8"/><polygon points="69.62,208.94 72.09,210.25 72.09,215.19 69.62,213.87" fill="#6498d8" opacity="0.8"/><ellipse cx="74.38" cy="212.95" rx="1.06" ry="0.82" fill="#86d45a" transform="rotate(25 74.38 212.95)"/><ellipse cx="74.38" cy="215.49" rx="1.06" ry="0.82" fill="#e2457f" transform="rotate(25 74.38 215.49)"/><polygon points="59.89,210.81 62.35,212.13 62.35,217.06 59.89,215.75" fill="#6498d8" opacity="0.8"/><polygon points="63.13,212.54 65.60,213.85 65.60,218.79 63.13,217.47" fill="#6498d8" opacity="0.8"/><polygon points="66.38,214.26 68.84,215.58 68.84,220.51 66.38,219.20" fill="#6498d8" opacity="0.8"/><polygon points="69.62,215.99 72.09,217.30 72.09,222.24 69.62,220.92" fill="#6498d8" opacity="0.8"/><ellipse cx="74.38" cy="220.00" rx="1.06" ry="0.82" fill="#86d45a" transform="rotate(25 74.38 220.00)"/><ellipse cx="74.38" cy="222.54" rx="1.06" ry="0.82" fill="#e2457f" transform="rotate(25 74.38 222.54)"/><polyline points="59.50,209.55 76.80,218.75 84.40,214.65" fill="none" stroke="#e6f0fb" stroke-width="0.8"/><rect x="124.60" y="195.10" width="36.00" height="23.40" rx="1.2" fill="#3d4966"/><rect x="126.50" y="197.80" width="32.20" height="18.40" fill="#98bde6"/><polygon points="126.50,197.80 146.60,197.80 126.50,209.10" fill="#c2d9f2"/><polygon points="124.60,218.50 160.60,218.50 165.60,225.00 119.60,225.00" fill="#d3deea"/><rect x="134.60" y="221.90" width="16.00" height="1.00" fill="#a4b2c2"/><rect x="197.04" y="195.10" width="34.92" height="22.70" rx="1.2" fill="#3d4966"/><rect x="198.88" y="197.72" width="31.23" height="17.85" fill="#98bde6"/><polygon points="198.88,197.72 218.38,197.72 198.88,208.68" fill="#c2d9f2"/><polygon points="197.04,217.80 231.96,217.80 236.81,224.10 192.19,224.10" fill="#d3deea"/><rect x="206.74" y="221.10" width="15.52" height="0.97" fill="#a4b2c2"/><polygon points="255.30,192.00 272.60,201.20 272.60,215.30 255.30,206.10" fill="url(#gFront)"/><polygon points="255.30,192.00 272.60,201.20 280.20,197.10 262.90,187.90" fill="url(#gTop)"/><polygon points="272.60,201.20 280.20,197.10 280.20,211.20 272.60,215.30" fill="url(#gEnd)"/><polygon points="255.69,193.26 258.15,194.58 258.15,199.51 255.69,198.20" fill="#6498d8" opacity="0.8"/><polygon points="258.93,194.99 261.40,196.30 261.40,201.24 258.93,199.92" fill="#6498d8" opacity="0.8"/><polygon points="262.18,196.71 264.64,198.03 264.64,202.96 262.18,201.65" fill="#6498d8" opacity="0.8"/><polygon points="265.42,198.44 267.89,199.75 267.89,204.69 265.42,203.37" fill="#6498d8" opacity="0.8"/><ellipse cx="270.18" cy="202.45" rx="1.06" ry="0.82" fill="#86d45a" transform="rotate(25 270.18 202.45)"/><ellipse cx="270.18" cy="204.99" rx="1.06" ry="0.82" fill="#e2457f" transform="rotate(25 270.18 204.99)"/><polygon points="255.69,200.31 258.15,201.63 258.15,206.56 255.69,205.25" fill="#6498d8" opacity="0.8"/><polygon points="258.93,202.04 261.40,203.35 261.40,208.29 258.93,206.97" fill="#6498d8" opacity="0.8"/><polygon points="262.18,203.76 264.64,205.08 264.64,210.01 262.18,208.70" fill="#6498d8" opacity="0.8"/><polygon points="265.42,205.49 267.89,206.80 267.89,211.74 265.42,210.42" fill="#6498d8" opacity="0.8"/><ellipse cx="270.18" cy="209.50" rx="1.06" ry="0.82" fill="#86d45a" transform="rotate(25 270.18 209.50)"/><ellipse cx="270.18" cy="212.04" rx="1.06" ry="0.82" fill="#e2457f" transform="rotate(25 270.18 212.04)"/><polyline points="255.30,199.05 272.60,208.25 280.20,204.15" fill="none" stroke="#e6f0fb" stroke-width="0.8"/><polygon points="274.80,202.50 292.10,211.70 292.10,225.80 274.80,216.60" fill="url(#gFront)"/><polygon points="274.80,202.50 292.10,211.70 299.70,207.60 282.40,198.40" fill="url(#gTop)"/><polygon points="292.10,211.70 299.70,207.60 299.70,221.70 292.10,225.80" fill="url(#gEnd)"/><polygon points="275.19,203.76 277.65,205.08 277.65,210.01 275.19,208.70" fill="#6498d8" opacity="0.8"/><polygon points="278.43,205.49 280.90,206.80 280.90,211.74 278.43,210.42" fill="#6498d8" opacity="0.8"/><polygon points="281.68,207.21 284.14,208.53 284.14,213.46 281.68,212.15" fill="#6498d8" opacity="0.8"/><polygon points="284.92,208.94 287.39,210.25 287.39,215.19 284.92,213.87" fill="#6498d8" opacity="0.8"/><ellipse cx="289.68" cy="212.95" rx="1.06" ry="0.82" fill="#86d45a" transform="rotate(25 289.68 212.95)"/><ellipse cx="289.68" cy="215.49" rx="1.06" ry="0.82" fill="#e2457f" transform="rotate(25 289.68 215.49)"/><polygon points="275.19,210.81 277.65,212.13 277.65,217.06 275.19,215.75" fill="#6498d8" opacity="0.8"/><polygon points="278.43,212.54 280.90,213.85 280.90,218.79 278.43,217.47" fill="#6498d8" opacity="0.8"/><polygon points="281.68,214.26 284.14,215.58 284.14,220.51 281.68,219.20" fill="#6498d8" opacity="0.8"/><polygon points="284.92,215.99 287.39,217.30 287.39,222.24 284.92,220.92" fill="#6498d8" opacity="0.8"/><ellipse cx="289.68" cy="220.00" rx="1.06" ry="0.82" fill="#86d45a" transform="rotate(25 289.68 220.00)"/><ellipse cx="289.68" cy="222.54" rx="1.06" ry="0.82" fill="#e2457f" transform="rotate(25 289.68 222.54)"/><polyline points="274.80,209.55 292.10,218.75 299.70,214.65" fill="none" stroke="#e6f0fb" stroke-width="0.8"/><polygon points="50.00,282.70 75.50,294.30 75.50,304.60 50.00,293.00" fill="url(#gFront)"/><polygon points="50.00,282.70 75.50,294.30 86.50,288.90 61.00,277.30" fill="url(#gTop)"/><polygon points="75.50,294.30 86.50,288.90 86.50,299.20 75.50,304.60" fill="url(#gEnd)"/><polygon points="50.55,283.72 54.04,285.31 54.04,288.91 50.55,287.33" fill="#6498d8" opacity="0.8"/><polygon points="50.55,288.87 54.04,290.46 54.04,294.06 50.55,292.48" fill="#6498d8" opacity="0.8"/><polygon points="55.14,285.81 58.63,287.40 58.63,291.00 55.14,289.42" fill="#6498d8" opacity="0.8"/><polygon points="55.14,290.96 58.63,292.55 58.63,296.15 55.14,294.57" fill="#6498d8" opacity="0.8"/><polygon points="59.73,287.90 63.22,289.49 63.22,293.09 59.73,291.50" fill="#6498d8" opacity="0.8"/><polygon points="59.73,293.05 63.22,294.64 63.22,298.24 59.73,296.65" fill="#6498d8" opacity="0.8"/><polygon points="64.32,289.99 67.81,291.57 67.81,295.18 64.32,293.59" fill="#6498d8" opacity="0.8"/><polygon points="64.32,295.14 67.81,296.72 67.81,300.33 64.32,298.74" fill="#6498d8" opacity="0.8"/><ellipse cx="71.93" cy="296.38" rx="1.26" ry="0.99" fill="#86d45a" transform="rotate(25 71.93 296.38)"/><ellipse cx="71.93" cy="300.09" rx="1.26" ry="0.99" fill="#e2457f" transform="rotate(25 71.93 300.09)"/><g transform="translate(50.40,292.60) rotate(-22)"><rect x="-3.6" y="-1.9" width="7.2" height="3.8" rx="1" fill="#2a8ee0"/><rect x="-2.6" y="-1.3" width="5.2" height="2.6" fill="#4a3c1a"/><circle cx="-1" cy="0" r="0.7" fill="#e8c040"/><circle cx="1.2" cy="0.3" r="0.7" fill="#e8c040"/></g><polygon points="121.20,282.90 146.70,294.50 146.70,304.80 121.20,293.20" fill="url(#gFront)"/><polygon points="121.20,282.90 146.70,294.50 157.70,289.10 132.20,277.50" fill="url(#gTop)"/><polygon points="146.70,294.50 157.70,289.10 157.70,299.40 146.70,304.80" fill="url(#gEnd)"/><polygon points="121.75,283.92 125.24,285.51 125.24,289.11 121.75,287.53" fill="#6498d8" opacity="0.8"/><polygon points="121.75,289.07 125.24,290.66 125.24,294.26 121.75,292.68" fill="#6498d8" opacity="0.8"/><polygon points="126.34,286.01 129.83,287.60 129.83,291.20 126.34,289.62" fill="#6498d8" opacity="0.8"/><polygon points="126.34,291.16 129.83,292.75 129.83,296.35 126.34,294.77" fill="#6498d8" opacity="0.8"/><polygon points="130.93,288.10 134.42,289.69 134.42,293.29 130.93,291.70" fill="#6498d8" opacity="0.8"/><polygon points="130.93,293.25 134.42,294.84 134.42,298.44 130.93,296.85" fill="#6498d8" opacity="0.8"/><polygon points="135.52,290.19 139.01,291.77 139.01,295.38 135.52,293.79" fill="#6498d8" opacity="0.8"/><polygon points="135.52,295.34 139.01,296.92 139.01,300.53 135.52,298.94" fill="#6498d8" opacity="0.8"/><ellipse cx="143.13" cy="296.58" rx="1.26" ry="0.99" fill="#86d45a" transform="rotate(25 143.13 296.58)"/><ellipse cx="143.13" cy="300.29" rx="1.26" ry="0.99" fill="#e2457f" transform="rotate(25 143.13 300.29)"/><g transform="translate(155.40,302.20) scale(0.8)"><path d="M-3.6,-1.2 Q-2,-3.4 1.2,-3 Q3.8,-2.2 3.6,0.6 Q3,3.2 -0.2,3.2 Q-3.4,2.8 -3.8,1 Z" fill="#ffffff"/><path d="M-2.6,0.6 Q-1.6,-1.6 0.4,-1.4 L1.6,-1.2" fill="none" stroke="#1a8ad8" stroke-width="1.3"/><path d="M0.6,-2.6 L2.4,-1.2 L0.6,0.2 Z" fill="#1a8ad8"/><path d="M-2,2.2 Q0,2.6 2.2,1.6" fill="none" stroke="#9fd0f0" stroke-width="0.7"/></g><polygon points="193.50,282.90 219.00,294.50 219.00,304.80 193.50,293.20" fill="url(#gFront)"/><polygon points="193.50,282.90 219.00,294.50 230.00,289.10 204.50,277.50" fill="url(#gTop)"/><polygon points="219.00,294.50 230.00,289.10 230.00,299.40 219.00,304.80" fill="url(#gEnd)"/><polygon points="194.05,283.92 197.54,285.51 197.54,289.11 194.05,287.53" fill="#6498d8" opacity="0.8"/><polygon points="194.05,289.07 197.54,290.66 197.54,294.26 194.05,292.68" fill="#6498d8" opacity="0.8"/><polygon points="198.64,286.01 202.13,287.60 202.13,291.20 198.64,289.62" fill="#6498d8" opacity="0.8"/><polygon points="198.64,291.16 202.13,292.75 202.13,296.35 198.64,294.77" fill="#6498d8" opacity="0.8"/><polygon points="203.23,288.10 206.72,289.69 206.72,293.29 203.23,291.70" fill="#6498d8" opacity="0.8"/><polygon points="203.23,293.25 206.72,294.84 206.72,298.44 203.23,296.85" fill="#6498d8" opacity="0.8"/><polygon points="207.82,290.19 211.31,291.77 211.31,295.38 207.82,293.79" fill="#6498d8" opacity="0.8"/><polygon points="207.82,295.34 211.31,296.92 211.31,300.53 207.82,298.94" fill="#6498d8" opacity="0.8"/><ellipse cx="215.43" cy="296.58" rx="1.26" ry="0.99" fill="#86d45a" transform="rotate(25 215.43 296.58)"/><ellipse cx="215.43" cy="300.29" rx="1.26" ry="0.99" fill="#e2457f" transform="rotate(25 215.43 300.29)"/><g transform="translate(227.70,302.20) scale(0.8)"><path d="M-3.6,-1.2 Q-2,-3.4 1.2,-3 Q3.8,-2.2 3.6,0.6 Q3,3.2 -0.2,3.2 Q-3.4,2.8 -3.8,1 Z" fill="#ffffff"/><path d="M-2.6,0.6 Q-1.6,-1.6 0.4,-1.4 L1.6,-1.2" fill="none" stroke="#1a8ad8" stroke-width="1.3"/><path d="M0.6,-2.6 L2.4,-1.2 L0.6,0.2 Z" fill="#1a8ad8"/><path d="M-2,2.2 Q0,2.6 2.2,1.6" fill="none" stroke="#9fd0f0" stroke-width="0.7"/></g><polygon points="259.30,282.90 284.80,294.50 284.80,304.80 259.30,293.20" fill="url(#gFront)"/><polygon points="259.30,282.90 284.80,294.50 295.80,289.10 270.30,277.50" fill="url(#gTop)"/><polygon points="284.80,294.50 295.80,289.10 295.80,299.40 284.80,304.80" fill="url(#gEnd)"/><polygon points="259.85,283.92 263.34,285.51 263.34,289.11 259.85,287.53" fill="#6498d8" opacity="0.8"/><polygon points="259.85,289.07 263.34,290.66 263.34,294.26 259.85,292.68" fill="#6498d8" opacity="0.8"/><polygon points="264.44,286.01 267.93,287.60 267.93,291.20 264.44,289.62" fill="#6498d8" opacity="0.8"/><polygon points="264.44,291.16 267.93,292.75 267.93,296.35 264.44,294.77" fill="#6498d8" opacity="0.8"/><polygon points="269.03,288.10 272.52,289.69 272.52,293.29 269.03,291.70" fill="#6498d8" opacity="0.8"/><polygon points="269.03,293.25 272.52,294.84 272.52,298.44 269.03,296.85" fill="#6498d8" opacity="0.8"/><polygon points="273.62,290.19 277.11,291.77 277.11,295.38 273.62,293.79" fill="#6498d8" opacity="0.8"/><polygon points="273.62,295.34 277.11,296.92 277.11,300.53 273.62,298.94" fill="#6498d8" opacity="0.8"/><ellipse cx="281.23" cy="296.58" rx="1.26" ry="0.99" fill="#86d45a" transform="rotate(25 281.23 296.58)"/><ellipse cx="281.23" cy="300.29" rx="1.26" ry="0.99" fill="#e2457f" transform="rotate(25 281.23 300.29)"/><g transform="translate(259.70,292.80) rotate(-22)"><rect x="-3.6" y="-1.9" width="7.2" height="3.8" rx="1" fill="#2a8ee0"/><rect x="-2.6" y="-1.3" width="5.2" height="2.6" fill="#4a3c1a"/><circle cx="-1" cy="0" r="0.7" fill="#e8c040"/><circle cx="1.2" cy="0.3" r="0.7" fill="#e8c040"/></g><g transform="translate(16.10,350.30)" fill="#0b7dd0"><path d="M3.6,24 L9.6,24 L9.6,41.2 L3.6,41.2 Z"/><path d="M9.6,30.5 L18.2,28.2 L18.2,22 L23.8,23.2 L22.8,29.6 L9.6,34.2 Z"/><path d="M8.2,11.2 L10.9,6.1 Q11.8,5.0 13.3,5.1 L39.9,8.8 L39.4,12.3 L35.6,13.2 L35.0,20.4 L32.6,24.4 L28.4,24.3 L22.4,22.8 L11.2,20.0 Q9.3,18.6 9.5,16.4 L9.9,13.0 Z"/><path d="M9.4,12.5 L28.8,15.0" fill="none" stroke="#fff" stroke-width="1.0"/><path d="M35.6,9.6 Q32.4,11.6 32.3,15.4 Q32.1,19.9 28.4,21.4" fill="none" stroke="#fff" stroke-width="1.15"/><ellipse cx="29.9" cy="17.0" rx="0.8" ry="1.1" fill="#fff"/></g><g transform="translate(89.80,350.30)" fill="#0b7dd0"><path d="M3.6,24 L9.6,24 L9.6,41.2 L3.6,41.2 Z"/><path d="M9.6,30.5 L18.2,28.2 L18.2,22 L23.8,23.2 L22.8,29.6 L9.6,34.2 Z"/><path d="M8.2,11.2 L10.9,6.1 Q11.8,5.0 13.3,5.1 L39.9,8.8 L39.4,12.3 L35.6,13.2 L35.0,20.4 L32.6,24.4 L28.4,24.3 L22.4,22.8 L11.2,20.0 Q9.3,18.6 9.5,16.4 L9.9,13.0 Z"/><path d="M9.4,12.5 L28.8,15.0" fill="none" stroke="#fff" stroke-width="1.0"/><path d="M35.6,9.6 Q32.4,11.6 32.3,15.4 Q32.1,19.9 28.4,21.4" fill="none" stroke="#fff" stroke-width="1.15"/><ellipse cx="29.9" cy="17.0" rx="0.8" ry="1.1" fill="#fff"/></g><g transform="translate(198.20,350.30)" fill="#0b7dd0"><path d="M3.6,24 L9.6,24 L9.6,41.2 L3.6,41.2 Z"/><path d="M9.6,30.5 L18.2,28.2 L18.2,22 L23.8,23.2 L22.8,29.6 L9.6,34.2 Z"/><path d="M8.2,11.2 L10.9,6.1 Q11.8,5.0 13.3,5.1 L39.9,8.8 L39.4,12.3 L35.6,13.2 L35.0,20.4 L32.6,24.4 L28.4,24.3 L22.4,22.8 L11.2,20.0 Q9.3,18.6 9.5,16.4 L9.9,13.0 Z"/><path d="M9.4,12.5 L28.8,15.0" fill="none" stroke="#fff" stroke-width="1.0"/><path d="M35.6,9.6 Q32.4,11.6 32.3,15.4 Q32.1,19.9 28.4,21.4" fill="none" stroke="#fff" stroke-width="1.15"/><ellipse cx="29.9" cy="17.0" rx="0.8" ry="1.1" fill="#fff"/></g><g transform="translate(271.90,350.30)" fill="#0b7dd0"><path d="M3.6,24 L9.6,24 L9.6,41.2 L3.6,41.2 Z"/><path d="M9.6,30.5 L18.2,28.2 L18.2,22 L23.8,23.2 L22.8,29.6 L9.6,34.2 Z"/><path d="M8.2,11.2 L10.9,6.1 Q11.8,5.0 13.3,5.1 L39.9,8.8 L39.4,12.3 L35.6,13.2 L35.0,20.4 L32.6,24.4 L28.4,24.3 L22.4,22.8 L11.2,20.0 Q9.3,18.6 9.5,16.4 L9.9,13.0 Z"/><path d="M9.4,12.5 L28.8,15.0" fill="none" stroke="#fff" stroke-width="1.0"/><path d="M35.6,9.6 Q32.4,11.6 32.3,15.4 Q32.1,19.9 28.4,21.4" fill="none" stroke="#fff" stroke-width="1.15"/><ellipse cx="29.9" cy="17.0" rx="0.8" ry="1.1" fill="#fff"/></g><text x="34.84" y="138" font-size="9.2" fill="#404040" stroke="#404040" stroke-width="0.2" dominant-baseline="central" textLength="59.96" lengthAdjust="spacing">省級中心管理</text><text x="145.34" y="138" font-size="9.2" fill="#404040" stroke="#404040" stroke-width="0.2" dominant-baseline="central" textLength="50.86" lengthAdjust="spacing">省級流媒体</text><text x="241.84" y="138" font-size="9.2" fill="#404040" stroke="#404040" stroke-width="0.2" dominant-baseline="central" textLength="60.06" lengthAdjust="spacing">省平台客户端</text><text x="35.04" y="235" font-size="9.2" fill="#404040" stroke="#404040" stroke-width="0.2" dominant-baseline="central" textLength="59.86" lengthAdjust="spacing">市級中心管理</text><text x="119.04" y="235" font-size="9.2" fill="#404040" stroke="#404040" stroke-width="0.2" dominant-baseline="central" textLength="47.56" lengthAdjust="spacing">A市級用户</text><text x="190.04" y="235" font-size="9.2" fill="#404040" stroke="#404040" stroke-width="0.2" dominant-baseline="central" textLength="45.56" lengthAdjust="spacing">B市級用户</text><text x="250.54" y="235" font-size="9.2" fill="#404040" stroke="#404040" stroke-width="0.2" dominant-baseline="central" textLength="59.96" lengthAdjust="spacing">市級中心管理</text><text x="35.04" y="317.4" font-size="9.2" fill="#404040" stroke="#404040" stroke-width="0.2" dominant-baseline="central" textLength="59.86" lengthAdjust="spacing">市級接入网关</text><text x="114.34" y="317.4" font-size="9.2" fill="#404040" stroke="#404040" stroke-width="0.2" dominant-baseline="central" textLength="50.96" lengthAdjust="spacing">市級流媒体</text><text x="186.84" y="317.4" font-size="9.2" fill="#404040" stroke="#404040" stroke-width="0.2" dominant-baseline="central" textLength="49.46" lengthAdjust="spacing">市級流媒体</text><text x="246.84" y="317.4" font-size="9.2" fill="#404040" stroke="#404040" stroke-width="0.2" dominant-baseline="central" textLength="59.36" lengthAdjust="spacing">市級接入网关</text><text x="54.70" y="384.6" font-size="10" fill="#404040" stroke="#555" stroke-width="0.08" dominant-baseline="central" textLength="30.00" lengthAdjust="spacing">摄像机</text><text x="236.70" y="384.6" font-size="10" fill="#404040" stroke="#555" stroke-width="0.08" dominant-baseline="central" textLength="30.20" lengthAdjust="spacing">摄像机</text><text x="20.8" y="171.8" font-size="13.2" font-weight="bold" fill="#1580d0" stroke="#1580d0" stroke-width="0.35" dominant-baseline="central" textLength="39.2" lengthAdjust="spacing">A地市</text><line x1="91.30" y1="103.40" x2="129.90" y2="103.40" stroke="#7cbc2a" stroke-width="1.3" stroke-dasharray="1.5 1.6"/><path d="M133.90,103.40L128.60,106.90L130.20,103.40L128.60,99.90Z" fill="#7cbc2a"/><path d="M87.30,103.40L92.60,99.90L91.00,103.40L92.60,106.90Z" fill="#7cbc2a"/><path d="M90.5,124Q123.1,159.2 255.2,191" fill="none" stroke="#7cbc2a" stroke-width="1.3" stroke-dasharray="1.6 2.0"/><path d="M255.20,191.00L249.23,193.16L251.60,190.13L250.87,186.36Z" fill="#7cbc2a"/><path d="M90.50,124.00L96.67,125.51L93.01,126.71L91.53,130.27Z" fill="#7cbc2a"/><line x1="69.00" y1="152.00" x2="69.00" y2="190.80" stroke="#7cbc2a" stroke-width="1.3" stroke-dasharray="1.5 1.6"/><path d="M69.00,194.80L65.50,189.50L69.00,191.10L72.50,189.50Z" fill="#7cbc2a"/><path d="M69.00,148.00L72.50,153.30L69.00,151.70L65.50,153.30Z" fill="#7cbc2a"/><line x1="101.68" y1="155.22" x2="121.32" y2="187.58" stroke="#7cbc2a" stroke-width="1.3" stroke-dasharray="1.5 1.6"/><path d="M123.40,191.00L117.66,188.29L121.48,187.84L123.64,184.65Z" fill="#7cbc2a"/><path d="M99.60,151.80L105.34,154.51L101.52,154.96L99.36,158.15Z" fill="#7cbc2a"/><line x1="69.00" y1="246.60" x2="69.00" y2="275.70" stroke="#7cbc2a" stroke-width="1.3" stroke-dasharray="1.5 1.6"/><path d="M69.00,279.70L65.50,274.40L69.00,276.00L72.50,274.40Z" fill="#7cbc2a"/><path d="M69.00,242.60L72.50,247.90L69.00,246.30L65.50,247.90Z" fill="#7cbc2a"/><line x1="282.20" y1="247.70" x2="282.20" y2="274.40" stroke="#7cbc2a" stroke-width="1.3" stroke-dasharray="1.5 1.6"/><path d="M282.20,278.40L278.70,273.10L282.20,274.70L285.70,273.10Z" fill="#7cbc2a"/><path d="M282.20,243.70L285.70,249.00L282.20,247.40L278.70,249.00Z" fill="#7cbc2a"/><line x1="96.20" y1="290.50" x2="109.90" y2="290.50" stroke="#7cbc2a" stroke-width="1.3" stroke-dasharray="1.5 1.6"/><path d="M113.90,290.50L108.60,294.00L110.20,290.50L108.60,287.00Z" fill="#7cbc2a"/><path d="M92.20,290.50L97.50,287.00L95.90,290.50L97.50,294.00Z" fill="#7cbc2a"/><line x1="235.40" y1="290.80" x2="248.20" y2="290.80" stroke="#7cbc2a" stroke-width="1.3" stroke-dasharray="1.5 1.6"/><path d="M252.20,290.80L246.90,294.30L248.50,290.80L246.90,287.30Z" fill="#7cbc2a"/><path d="M231.40,290.80L236.70,287.30L235.10,290.80L236.70,294.30Z" fill="#7cbc2a"/><line x1="113.90" y1="282.40" x2="96.20" y2="282.40" stroke="#1a9ce2" stroke-width="1.3" stroke-dasharray="1.5 1.6"/><path d="M92.20,282.40L97.50,278.90L95.90,282.40L97.50,285.90Z" fill="#1a9ce2"/><line x1="252.20" y1="282.20" x2="235.40" y2="282.20" stroke="#1a9ce2" stroke-width="1.3" stroke-dasharray="1.5 1.6"/><path d="M231.40,282.20L236.70,278.70L235.10,282.20L236.70,285.70Z" fill="#1a9ce2"/><line x1="32.50" y1="347.20" x2="42.86" y2="333.77" stroke="#1a9ce2" stroke-width="1.3" stroke-dasharray="1.5 1.6"/><path d="M45.30,330.60L44.84,336.93L43.04,333.53L39.29,332.66Z" fill="#1a9ce2"/><line x1="41.83" y1="348.92" x2="49.67" y2="338.68" stroke="#7cbc2a" stroke-width="1.3" stroke-dasharray="1.5 1.6"/><path d="M52.10,335.50L51.66,341.84L49.85,338.44L46.10,337.58Z" fill="#7cbc2a"/><path d="M39.40,352.10L39.84,345.76L41.65,349.16L45.40,350.02Z" fill="#7cbc2a"/><line x1="106.30" y1="346.90" x2="95.43" y2="334.42" stroke="#1a9ce2" stroke-width="1.3" stroke-dasharray="1.5 1.6"/><path d="M92.80,331.40L98.92,333.10L95.23,334.19L93.64,337.70Z" fill="#1a9ce2"/><line x1="97.11" y1="348.04" x2="88.49" y2="338.56" stroke="#7cbc2a" stroke-width="1.3" stroke-dasharray="1.5 1.6"/><path d="M85.80,335.60L91.95,337.17L88.29,338.34L86.78,341.88Z" fill="#7cbc2a"/><path d="M99.80,351.00L93.65,349.43L97.31,348.26L98.82,344.72Z" fill="#7cbc2a"/><line x1="236.10" y1="346.90" x2="245.74" y2="334.55" stroke="#1a9ce2" stroke-width="1.3" stroke-dasharray="1.5 1.6"/><path d="M248.20,331.40L247.70,337.73L245.92,334.32L242.18,333.42Z" fill="#1a9ce2"/><line x1="245.47" y1="347.78" x2="252.03" y2="338.82" stroke="#7cbc2a" stroke-width="1.3" stroke-dasharray="1.5 1.6"/><path d="M254.40,335.60L254.09,341.94L252.21,338.58L248.44,337.80Z" fill="#7cbc2a"/><path d="M243.10,351.00L243.41,344.66L245.29,348.02L249.06,348.80Z" fill="#7cbc2a"/><line x1="300.80" y1="346.90" x2="290.64" y2="334.49" stroke="#1a9ce2" stroke-width="1.3" stroke-dasharray="1.5 1.6"/><path d="M288.10,331.40L294.17,333.28L290.44,334.26L288.75,337.72Z" fill="#1a9ce2"/><line x1="291.16" y1="347.91" x2="283.54" y2="338.69" stroke="#7cbc2a" stroke-width="1.3" stroke-dasharray="1.5 1.6"/><path d="M281.00,335.60L287.07,337.46L283.35,338.45L281.67,341.92Z" fill="#7cbc2a"/><path d="M293.70,351.00L287.63,349.14L291.35,348.15L293.03,344.68Z" fill="#7cbc2a"/><line x1="141.00" y1="275.30" x2="141.00" y2="248.00" stroke="#1a9ce2" stroke-width="1.3" stroke-dasharray="1.5 1.6"/><path d="M141.00,244.00L144.50,249.30L141.00,247.70L137.50,249.30Z" fill="#1a9ce2"/><line x1="186.30" y1="286.10" x2="169.40" y2="286.10" stroke="#1a9ce2" stroke-width="1.3" stroke-dasharray="1.5 1.6"/><path d="M165.40,286.10L170.70,282.60L169.10,286.10L170.70,289.60Z" fill="#1a9ce2"/></g>
<polygon points="339.1,205.5 380.9,231.3 339.1,256.9 339.1,243.8 359.7,231.3 339.1,218.5" fill="url(#gChev)"/>
<text x="342.6" y="266.2" font-size="12.6" font-weight="bold" fill="#1580d0" stroke="#1580d0" stroke-width="0.35" dominant-baseline="central" textLength="28.4" lengthAdjust="spacing">改进</text>
<g transform="translate(0,0)">
<line x1="20.30" y1="422.90" x2="59.40" y2="422.90" stroke="#7cbc2a" stroke-width="1.3" stroke-dasharray="1.5 1.6"/><path d="M63.40,422.90L58.10,426.40L59.70,422.90L58.10,419.40Z" fill="#7cbc2a"/><path d="M16.30,422.90L21.60,419.40L20.00,422.90L21.60,426.40Z" fill="#7cbc2a"/>
<text x="75.9" y="422.4" font-size="11.5" fill="#555" font-weight="normal" text-anchor="start" dominant-baseline="central" letter-spacing="1">SIP信令流</text>
<line x1="201.50" y1="422.60" x2="244.20" y2="422.60" stroke="#1a9ce2" stroke-width="1.3" stroke-dasharray="1.5 1.6"/><path d="M248.20,422.60L242.90,426.10L244.50,422.60L242.90,419.10Z" fill="#1a9ce2"/>
<text x="253.5" y="422.4" font-size="11.5" fill="#555" font-weight="normal" text-anchor="start" dominant-baseline="central" letter-spacing="1">国标媒体流</text>
</g>
<g transform="translate(386,0)">
<line x1="20.30" y1="422.90" x2="59.40" y2="422.90" stroke="#7cbc2a" stroke-width="1.3" stroke-dasharray="1.5 1.6"/><path d="M63.40,422.90L58.10,426.40L59.70,422.90L58.10,419.40Z" fill="#7cbc2a"/><path d="M16.30,422.90L21.60,419.40L20.00,422.90L21.60,426.40Z" fill="#7cbc2a"/>
<text x="75.9" y="422.4" font-size="11.5" fill="#555" font-weight="normal" text-anchor="start" dominant-baseline="central" letter-spacing="1">SIP信令流</text>
<line x1="201.50" y1="422.60" x2="244.20" y2="422.60" stroke="#1a9ce2" stroke-width="1.3" stroke-dasharray="1.5 1.6"/><path d="M248.20,422.60L242.90,426.10L244.50,422.60L242.90,419.10Z" fill="#1a9ce2"/>
<text x="253.5" y="422.4" font-size="11.5" fill="#555" font-weight="normal" text-anchor="start" dominant-baseline="central" letter-spacing="1">国标媒体流</text>
</g>
</svg>
</body></html>
